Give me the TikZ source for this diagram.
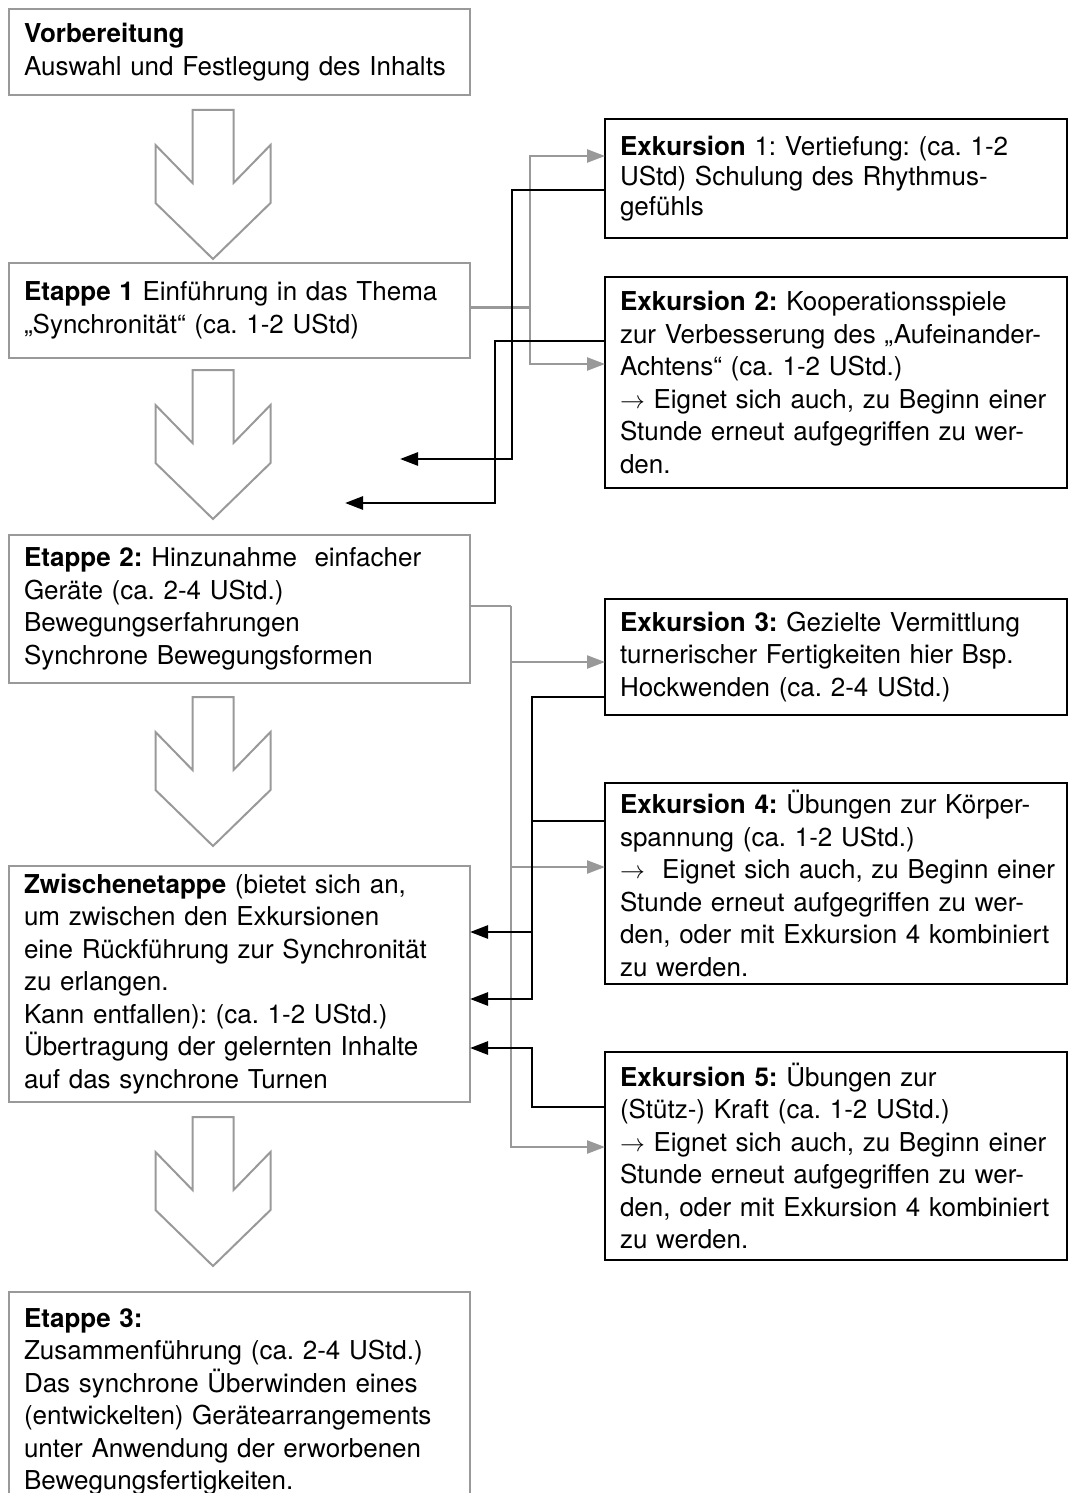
\documentclass[tikz,border=0pt]{standalone}
\usepackage{fontspec}
\setmainfont{TeX Gyre Heros}
\usetikzlibrary{positioning, arrows.meta, calc}
\definecolor{stagegray}{gray}{0.6}
\definecolor{feedgray}{gray}{0.6}

\begin{document}
\frenchspacing
\begin{tikzpicture}[x=1pt, y=-1pt,
            stage/.style={rectangle, draw=stagegray, line width=2.5pt, text width=431pt, inner xsep=15pt, inner ysep=0pt, outer sep=0pt, align=left, font=\fontsize{26pt}{32.5pt}\selectfont},
            excursion/.style={stage, draw=black, line width=2.6pt, text width=432pt},
            feed/.style={draw=feedgray, line width=2.4pt, -{Triangle[length=18pt,width=13pt]}},
            back/.style={draw=black, line width=2.7pt, -{Triangle[length=18pt,width=13pt]}},
            bigarrow/.pic={\draw[stagegray, line width=2pt] (-20.5,0) -- (20.5,0) -- (20.5,73) -- (57.5,35) -- (57.5,93) -- (0,149) -- (-57.5,93) -- (-57.5,35) -- (-20.5,73) -- cycle;}
        ]
            \useasboundingbox (0,0) rectangle (1068,1493);

            % Left column: stages
            \node[stage, minimum height=86pt, anchor=north west] (prep) at (9,9) {\textbf{Vorbereitung}\\Auswahl und Festlegung des Inhalts};
            \node[stage, minimum height=95pt, below=168pt of prep] (et1) {\textbf{Etappe 1} Einführung in das Thema\\„Synchronität“ (ca. 1-2 UStd)};
            \node[stage, minimum height=148pt, below=177pt of et1] (et2) {\textbf{Etappe 2:} Hinzunahme~ einfacher\\Geräte (ca. 2-4 UStd.)\\Bewegungserfahrungen\\Synchrone Bewegungsformen};
            \node[stage, minimum height=236pt, below=183pt of et2] (zw) {\textbf{Zwischenetappe} (bietet sich an,\\um zwischen den Exkursionen\\eine Rückführung zur Synchronität\\zu erlangen.\\Kann entfallen): (ca. 1-2 UStd.)\\Übertragung der gelernten Inhalte\\auf das synchrone Turnen};
            \node[stage, minimum height=220pt, below=190pt of zw] (et3) {\textbf{Etappe 3:}\\Zusammenführung (ca. 2-4 UStd.)\\Das synchrone Überwinden eines\\(entwickelten) Gerätearrangements\\unter Anwendung der erworbenen\\Bewegungsfertigkeiten.};

            % Right column: excursions
            \node[excursion, minimum height=119pt, anchor=north west, font=\fontsize{26pt}{30pt}\selectfont] (ex1) at (605,119) {\textbf{Exkursion} 1: Vertiefung: (ca. 1-2\\UStd) Schulung des Rhythmus-\\gefühls};
            \node[excursion, minimum height=211pt, below=39pt of ex1] (ex2) {\textbf{Exkursion 2:} Kooperationsspiele\\zur Verbesserung des „Aufeinander-\\Achtens“ (ca. 1-2 UStd.)\\$\rightarrow$ Eignet sich auch, zu Beginn einer\\Stunde erneut aufgegriffen zu wer-\\den.};
            \node[excursion, minimum height=116pt, below=111pt of ex2] (ex3) {\textbf{Exkursion 3:} Gezielte Vermittlung\\turnerischer Fertigkeiten hier Bsp.\\Hockwenden (ca. 2-4 UStd.)};
            \node[excursion, minimum height=201pt, below=68pt of ex3] (ex4) {\textbf{Exkursion 4:} Übungen zur Körper-\\spannung (ca. 1-2 UStd.)\\\mbox{$\rightarrow$~ Eignet sich auch, zu Beginn einer}\\Stunde erneut aufgegriffen zu wer-\\den, oder mit Exkursion 4 kombiniert\\zu werden.};
            \node[excursion, minimum height=208pt, below=68pt of ex4] (ex5) {\textbf{Exkursion 5:} Übungen zur\\(Stütz-) Kraft (ca. 1-2 UStd.)\\$\rightarrow$ Eignet sich auch, zu Beginn einer\\Stunde erneut aufgegriffen zu wer-\\den, oder mit Exkursion 4 kombiniert\\zu werden.};

            % Hollow arrows between stages
            \pic at ($(prep.south)+(-26.5,15)$) {bigarrow};
            \pic at ($(et1.south)+(-26.5,12)$) {bigarrow};
            \pic at ($(et2.south)+(-26.5,14)$) {bigarrow};
            \pic at ($(zw.south)+(-26.5,15)$) {bigarrow};

            % Gray branches out to the excursions
            \coordinate (fork1) at ($(et1.east)+(60,-3)$);
            \coordinate (fork2) at ($(et2.east)+(41,-3)$);
            \draw[feed, -] ([yshift=3pt]et1.east) -- (fork1);
            \draw[feed] (fork1) |- ([yshift=22.5pt]ex1.west);
            \draw[feed] (fork1) |- ([yshift=18.5pt]ex2.west);
            \draw[feed, -] ([yshift=3pt]et2.east) -- (fork2);
            \draw[feed] (fork2) |- ([yshift=-5pt]ex3.west);
            \draw[feed] (fork2) |- ([yshift=16.5pt]ex4.west);
            \draw[feed] (fork2) |- ([yshift=9pt]ex5.west);

            % Black returns
            \coordinate (ret1) at (400,459);
            \coordinate (ret2) at (345,503);
            \coordinate (bend3) at ($(zw.east)+(62,15)$);
            \coordinate (bend5) at ($(zw.east)+(62,64)$);
            \coordinate (tap4) at ($(zw.east)+(62,-52)$);
            \draw[back] ([yshift=-11.5pt]ex1.west) -| ($(ret1)+(112,0)$) -- (ret1);
            \draw[back] ([yshift=41.5pt]ex2.west) -| ($(ret2)+(150,0)$) -- (ret2);
            \draw[back] ([yshift=-40pt]ex3.west) -| (bend3) -- ([yshift=-15pt]zw.east);
            \draw[back, -] ([yshift=62.5pt]ex4.west) -| (bend3);
            \draw[back] (tap4) -- ([yshift=52pt]zw.east);
            \draw[back] ([yshift=49pt]ex5.west) -| (bend5) -- ([yshift=-64pt]zw.east);
        \end{tikzpicture}
\end{document}
